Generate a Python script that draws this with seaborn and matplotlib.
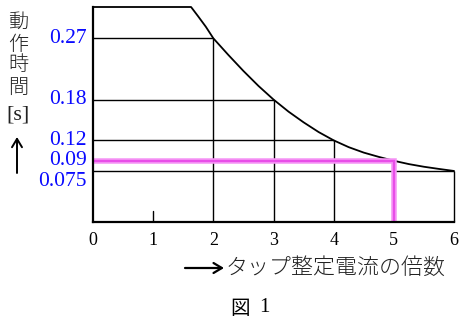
import matplotlib
matplotlib.use("Agg")
import matplotlib.pyplot as plt
import matplotlib.transforms as mtransforms
import seaborn as sns
import pandas as pd

# ---- data ----
curve_x = [0.0, 1.63, 1.75, 1.875, 2.0, 2.25, 2.5, 2.75, 3.0, 3.25, 3.5, 3.75,
           4.0, 4.25, 4.5, 4.75, 5.0, 5.25, 5.5, 5.75, 6.0]
curve_y = [0.316, 0.316, 0.302, 0.287, 0.27, 0.2455, 0.222, 0.200, 0.18, 0.1622, 0.1465,
           0.1322, 0.12, 0.110, 0.102, 0.0957, 0.09, 0.0851, 0.0812, 0.078, 0.075]
mark_x = [2, 3, 4, 6]
mark_y = [0.27, 0.18, 0.12, 0.075]
hl_x = 5
hl_y = 0.09
ytick_vals = [0.27, 0.18, 0.12, 0.09, 0.075]
ytick_labels = ["0.27", "0.18", "0.12", "0.09", "0.075"]
xtick_vals = [0, 1, 2, 3, 4, 5, 6]
xlabel = "タップ整定電流の倍数"
ylabel_chars = ["動", "作", "時", "間", "[s]"]
caption = "図 1"

sns.set_theme(style="white")
plt.rcParams["font.family"] = ["Noto Sans CJK JP", "DejaVu Sans"]

fig = plt.figure(figsize=(4.7, 3.22), dpi=100)
ax = fig.add_axes([93 / 470, 100 / 322, 361 / 470, 215 / 322])

df = pd.DataFrame({"x": curve_x, "y": curve_y})
sns.lineplot(data=df, x="x", y="y", sort=False, color="black", linewidth=1.3,
             ax=ax, clip_on=False)

# guide lines
for mx, my in zip(mark_x, mark_y):
    ax.plot([0, mx], [my, my], color="black", lw=1.0, clip_on=False, solid_capstyle="butt")
    ax.plot([mx, mx], [0, my], color="black", lw=1.0, clip_on=False, solid_capstyle="butt")

# highlighted point
for lw, col in [(4.0, "#f595f5"), (1.6, "#e84ee8")]:
    ax.plot([0, hl_x, hl_x], [hl_y, hl_y, 0], color=col, lw=lw, clip_on=False,
            solid_joinstyle="miter", solid_capstyle="butt", zorder=3)

# small tick at x=1
ax.plot([1, 1], [0, 11 / 215], color="black", lw=1.0, transform=ax.get_xaxis_transform())

ax.set_xlim(0, 6)
ax.set_ylim(0, 0.316)
ax.set_xlabel("")
ax.set_ylabel("")
for s in ["top", "right"]:
    ax.spines[s].set_visible(False)
for s in ["left", "bottom"]:
    ax.spines[s].set_color("black")
    ax.spines[s].set_linewidth(1.6)
    ax.spines[s].set_zorder(5)

ax.set_xticks(xtick_vals)
ax.set_xticklabels([str(v) for v in xtick_vals], fontfamily="Liberation Serif",
                   fontsize=13, color="black")
ax.tick_params(axis="x", length=0, pad=7)
ax.set_yticks([])

# y labels (blue), the last one shifted down to avoid overlap
ytrans = ax.get_yaxis_transform()
for i, (v, lab) in enumerate(zip(ytick_vals, ytick_labels)):
    tr = ytrans
    if i == len(ytick_vals) - 1:
        tr = mtransforms.offset_copy(ytrans, fig=fig, x=0, y=-11, units="dots")
    ax.text(-6 / 361, v, lab, transform=tr, ha="right", va="center",
            fontfamily="Liberation Serif", fontsize=15.5, color="#0a0aff")

# vertical y axis title
ylab_y = [22, 44, 65, 87, 115]
for ch, yy in zip(ylabel_chars, ylab_y):
    fam = ["Liberation Serif"] if ch == "[s]" else ["Noto Sans CJK JP", "DejaVu Sans"]
    fs = 16 if ch == "[s]" else 14.5
    fig.text(18 / 470, 1 - yy / 322, ch, ha="center", va="center",
             fontfamily=fam, fontsize=fs, color="#222222", fontweight="light")
ax.annotate("", xy=(17 / 470, 1 - 137 / 322), xytext=(17 / 470, 1 - 173 / 322),
            xycoords="figure fraction",
            arrowprops=dict(arrowstyle="->,head_length=0.5,head_width=0.3", lw=1.4,
                            color="black", shrinkA=0, shrinkB=0))

# x axis title with arrow
ax.annotate("", xy=(224 / 470, 1 - 268 / 322), xytext=(185 / 470, 1 - 268 / 322),
            xycoords="figure fraction",
            arrowprops=dict(arrowstyle="->,head_length=0.5,head_width=0.3", lw=1.6,
                            color="black", shrinkA=0, shrinkB=0))
fig.text(226 / 470, 1 - 268 / 322, xlabel, ha="left", va="center",
         fontsize=15.8, color="#222222", fontweight="light")

# caption "図 1" with a wide gap, as in the reference
cap_parts = caption.split(" ")
fig.text(240 / 470, 1 - 308 / 322, cap_parts[0], ha="center", va="center",
         fontfamily=["Noto Sans CJK JP"], fontsize=14, color="black")
fig.text(264 / 470, 1 - 308 / 322, cap_parts[1], ha="center", va="center",
         fontfamily=["Liberation Serif"], fontsize=15, color="black")

fig.savefig("out.png", dpi=100)
